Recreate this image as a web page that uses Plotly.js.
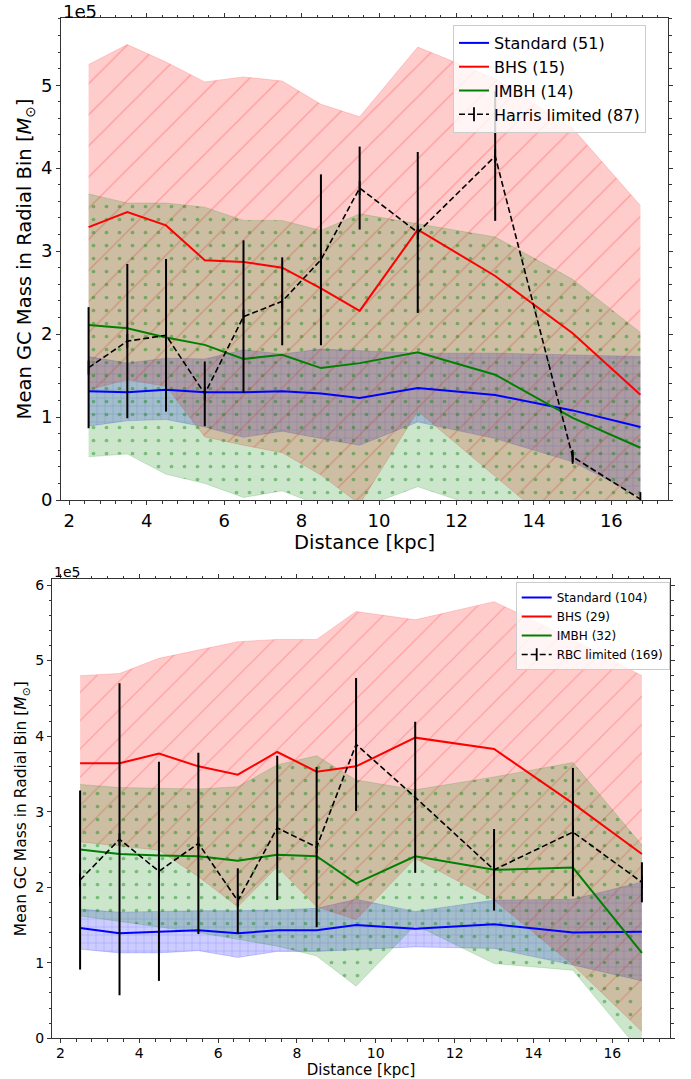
<!DOCTYPE html>
<html>
<head>
<meta charset="utf-8">
<script src="https://cdn.plot.ly/plotly-3.0.1.min.js"></script>
<style>html,body{margin:0;padding:0;background:#fff;}#chart{width:691px;height:1079px;}</style>
</head>
<body>
<div id="chart"></div>
<script>
// Radial bins (kpc)
const xBins = [2.5, 3.5, 4.5, 5.5, 6.5, 7.5, 8.5, 9.5, 11, 13, 15, 16.75];

// ---- Top panel (units of 1e5 Msun) ----
const stdMeanTop  = [1.31, 1.30, 1.33, 1.30, 1.30, 1.31, 1.285, 1.23, 1.35, 1.265, 1.08, 0.88];
const stdUpTop    = [1.73, 1.65, 1.71, 1.70, 1.81, 1.76, 1.82, 1.80, 1.77, 1.77, 1.75, 1.73];
const stdLoTop    = [0.89, 0.955, 0.97, 0.88, 0.755, 0.83, 0.74, 0.66, 0.94, 0.74, 0.46, 0.04];
const bhsMeanTop  = [3.29, 3.47, 3.31, 2.89, 2.87, 2.80, 2.55, 2.28, 3.26, 2.70, 2.01, 1.27];
const bhsUpTop    = [5.25, 5.49, 5.28, 5.04, 5.10, 5.05, 4.77, 4.62, 5.46, 5.08, 4.48, 3.55];
const bhsLoTop    = [1.33, 1.45, 1.37, 0.76, 0.66, 0.57, 0.30, -0.05, 1.07, 0.29, -0.50, -0.80];
const imbhMeanTop = [2.11, 2.07, 1.96, 1.87, 1.70, 1.75, 1.59, 1.65, 1.78, 1.51, 0.99, 0.63];
const imbhUpTop   = [3.69, 3.58, 3.58, 3.53, 3.37, 3.37, 3.25, 3.45, 3.33, 3.17, 2.66, 2.02];
const imbhLoTop   = [0.52, 0.555, 0.31, 0.20, 0.03, 0.11, -0.07, -0.10, 0.16, -0.15, -0.50, -0.70];
const harrisMean  = [1.595, 1.915, 1.985, 1.28, 2.21, 2.395, 2.895, 3.76, 3.225, 4.145, 0.52, 0.01];
const harrisErr   = [0.73, 0.93, 0.92, 0.39, 0.92, 0.53, 1.03, 0.50, 0.97, 0.78, 0.06, 0.0];

// ---- Bottom panel (units of 1e5 Msun) ----
const stdMeanBot  = [1.46, 1.39, 1.41, 1.43, 1.39, 1.43, 1.43, 1.50, 1.45, 1.51, 1.40, 1.41];
const stdUpBot    = [1.71, 1.67, 1.68, 1.69, 1.69, 1.70, 1.72, 1.84, 1.68, 1.83, 1.84, 2.07];
const stdLoBot    = [1.18, 1.13, 1.13, 1.16, 1.07, 1.15, 1.15, 1.17, 1.21, 1.19, 0.97, 0.76];
const bhsMeanBot  = [3.64, 3.64, 3.77, 3.60, 3.49, 3.79, 3.53, 3.60, 3.98, 3.83, 3.11, 2.44];
const bhsUpBot    = [4.80, 4.83, 5.03, 5.14, 5.25, 5.28, 5.28, 5.65, 5.54, 5.78, 5.28, 4.80];
const bhsLoBot    = [2.60, 2.54, 2.49, 2.14, 1.74, 2.27, 1.74, 1.57, 2.38, 1.83, 0.97, 0.09];
const imbhMeanBot = [2.50, 2.44, 2.42, 2.41, 2.35, 2.43, 2.41, 2.05, 2.41, 2.23, 2.26, 1.13];
const imbhUpBot   = [3.36, 3.32, 3.31, 3.30, 3.33, 3.62, 3.74, 3.42, 3.29, 3.46, 3.65, 2.56];
const imbhLoBot   = [1.62, 1.55, 1.47, 1.40, 1.31, 1.22, 1.09, 0.69, 1.50, 0.99, 0.90, -0.20];
const rbcMean     = [2.095, 2.635, 2.21, 2.58, 1.82, 2.785, 2.53, 3.89, 3.19, 2.23, 2.73, 2.065];
const rbcErr      = [1.185, 2.065, 1.45, 1.20, 0.43, 0.955, 1.06, 0.88, 1.00, 0.54, 0.85, 0.265];

// Legend labels
const labelsTop = ['Standard (51)', 'BHS (15)', 'IMBH (14)', 'Harris limited (87)'];
const labelsBot = ['Standard (104)', 'BHS (29)', 'IMBH (32)', 'RBC limited (169)'];

const COL = {std: '#0000ff', bhs: '#ff0000', imbh: '#008000'};
const PAT = {
  std:  {shape: '+', solidity: 0.12, fg: 'rgba(0,0,255,0.22)', bg: 'rgba(0,0,255,0.2)', edge: 'rgba(0,0,255,0.2)'},
  bhs:  {shape: '/', solidity: 0.06, fg: 'rgba(255,0,0,0.24)', bg: 'rgba(255,0,0,0.2)', edge: 'rgba(255,0,0,0.2)'},
  imbh: {shape: '.', solidity: 0.065, fg: 'rgba(0,128,0,0.4)', bg: 'rgba(0,128,0,0.2)', edge: 'rgba(0,128,0,0.2)'}
};

function band(lo, up, key, xa, ya, size) {
  const p = PAT[key];
  return [
    {x: xBins, y: lo, xaxis: xa, yaxis: ya, type: 'scatter', mode: 'lines',
     line: {width: 0.8, color: p.edge}, showlegend: false, hoverinfo: 'skip'},
    {x: xBins, y: up, xaxis: xa, yaxis: ya, type: 'scatter', mode: 'lines', fill: 'tonexty',
     fillcolor: p.bg,
     fillpattern: {shape: p.shape, size: size, solidity: p.solidity, fgcolor: p.fg, bgcolor: p.bg, fillmode: 'replace'},
     line: {width: 0.8, color: p.edge}, showlegend: false, hoverinfo: 'skip'}
  ];
}

function meanLine(y, key, name, xa, ya, leg, rank) {
  return {x: xBins, y: y, xaxis: xa, yaxis: ya, type: 'scatter', mode: 'lines', name: name,
          line: {color: COL[key], width: 2}, legend: leg, legendrank: rank, hoverinfo: 'skip'};
}

function obsLine(y, err, name, xa, ya, leg, msize) {
  return {x: xBins, y: y, xaxis: xa, yaxis: ya, type: 'scatter', mode: 'lines+markers', name: name,
          line: {color: '#000', width: 1.6, dash: '6px,3px'},
          marker: {symbol: 'line-ns', size: msize, line: {color: '#000', width: 1.8}},
          error_y: {type: 'data', array: err, symmetric: true, color: '#000', thickness: 2, width: 0},
          legend: leg, legendrank: 4, hoverinfo: 'skip'};
}

const data = [].concat(
  band(stdLoTop, stdUpTop, 'std', 'x', 'y', 8),
  band(bhsLoTop, bhsUpTop, 'bhs', 'x', 'y', 22),
  band(imbhLoTop, imbhUpTop, 'imbh', 'x', 'y', 13),
  band(stdLoBot, stdUpBot, 'std', 'x2', 'y2', 8),
  band(bhsLoBot, bhsUpBot, 'bhs', 'x2', 'y2', 20),
  band(imbhLoBot, imbhUpBot, 'imbh', 'x2', 'y2', 13),
  [
    meanLine(stdMeanTop, 'std', labelsTop[0], 'x', 'y', 'legend', 1),
    meanLine(bhsMeanTop, 'bhs', labelsTop[1], 'x', 'y', 'legend', 2),
    meanLine(imbhMeanTop, 'imbh', labelsTop[2], 'x', 'y', 'legend', 3),
    obsLine(harrisMean, harrisErr, labelsTop[3], 'x', 'y', 'legend', 10),
    meanLine(stdMeanBot, 'std', labelsBot[0], 'x2', 'y2', 'legend2', 1),
    meanLine(bhsMeanBot, 'bhs', labelsBot[1], 'x2', 'y2', 'legend2', 2),
    meanLine(imbhMeanBot, 'imbh', labelsBot[2], 'x2', 'y2', 'legend2', 3),
    obsLine(rbcMean, rbcErr, labelsBot[3], 'x2', 'y2', 'legend2', 9)
  ]
);

const W = 691, H = 1079;
function axisBase(fs) {
  return {showgrid: false, zeroline: false, showline: true, linecolor: '#333', linewidth: 1,
          mirror: 'allticks', ticks: 'outside', ticklen: 4, tickwidth: 1, tickcolor: '#333',
          tickfont: {size: fs, color: '#000'}};
}
const minorX = {tick0: 0, dtick: 0.4, ticks: 'outside', ticklen: 2.5, tickcolor: '#333'};
const minorY = {tick0: 0, dtick: 0.2, ticks: 'outside', ticklen: 2.5, tickcolor: '#333'};

const layout = {
  width: W, height: H,
  margin: {l: 0, r: 0, t: 0, b: 0},
  paper_bgcolor: '#fff', plot_bgcolor: '#fff',
  font: {family: 'DejaVu Sans, sans-serif', color: '#000'},
  hovermode: false,
  xaxis: Object.assign(axisBase(18), {
    domain: [61 / W, 668 / W], range: [1.7875, 17.4625], tick0: 0, dtick: 2, anchor: 'y',
    minor: minorX,
    title: {text: 'Distance [kpc]', font: {size: 19.5}, standoff: 3}
  }),
  yaxis: Object.assign(axisBase(18), {
    domain: [1 - 500 / H, 1 - 18 / H], range: [0, 5.81], tick0: 0, dtick: 1, anchor: 'x',
    minor: minorY,
    title: {text: 'Mean GC Mass in Radial Bin [<i>M</i><sub>⊙</sub>]', font: {size: 19.5}, standoff: 4}
  }),
  xaxis2: Object.assign(axisBase(14), {
    domain: [52 / W, 670 / W], range: [1.7875, 17.4625], tick0: 0, dtick: 2, anchor: 'y2',
    minor: minorX, ticklabelstandoff: -2,
    title: {text: 'Distance [kpc]', font: {size: 15}, standoff: 4}
  }),
  yaxis2: Object.assign(axisBase(14), {
    domain: [1 - 1038.3 / H, 1 - 579 / H], range: [0, 6.08], tick0: 0, dtick: 1, anchor: 'x2',
    minor: minorY,
    title: {text: 'Mean GC Mass in Radial Bin [<i>M</i><sub>⊙</sub>]', font: {size: 15.5}, standoff: 4}
  }),
  legend: {x: 453 / W, y: 1 - 25 / H, xanchor: 'left', yanchor: 'top',
           bgcolor: 'rgba(255,255,255,0.8)', bordercolor: '#cccccc', borderwidth: 1,
           font: {size: 16}, itemwidth: 30, traceorder: 'normal'},
  legend2: {x: 515.7 / W, y: 1 - 582 / H, xanchor: 'left', yanchor: 'top',
            bgcolor: 'rgba(255,255,255,0.8)', bordercolor: '#cccccc', borderwidth: 1,
            font: {size: 12}, itemwidth: 30, traceorder: 'normal'},
  annotations: [
    {text: '1e5', xref: 'paper', yref: 'paper', x: 61 / W, y: 1 - 11 / H, xanchor: 'left', yanchor: 'middle',
     showarrow: false, font: {size: 18}},
    {text: '1e5', xref: 'paper', yref: 'paper', x: 52 / W, y: 1 - 572 / H, xanchor: 'left', yanchor: 'middle',
     showarrow: false, font: {size: 14}}
  ]
};

Plotly.newPlot('chart', data, layout, {staticPlot: true, displayModeBar: false});
</script>
</body>
</html>
